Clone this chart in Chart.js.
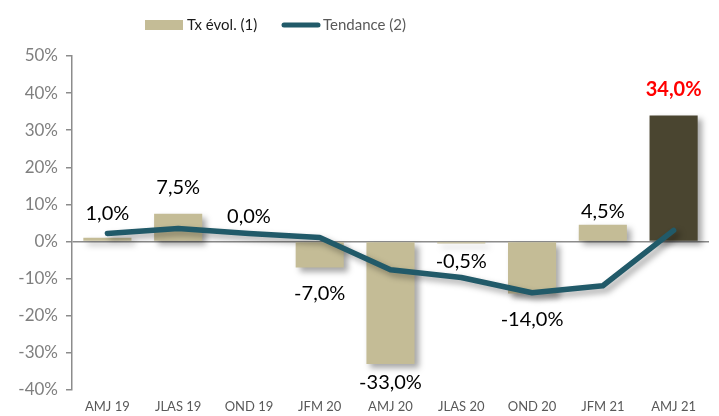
<!DOCTYPE html>
<html>
<head>
<meta charset="utf-8">
<script src="https://cdn.jsdelivr.net/npm/chart.js@4.4.0/dist/chart.umd.min.js"></script>
<style>
  html, body { margin: 0; padding: 0; background: #fff; }
  #wrap { width: 719px; height: 416px; }
</style>
</head>
<body>
<div id="wrap"><canvas id="myChart" width="719" height="416"></canvas></div>
<script>
var categories = ['AMJ 19', 'JLAS 19', 'OND 19', 'JFM 20', 'AMJ 20', 'JLAS 20', 'OND 20', 'JFM 21', 'AMJ 21'];
var evolValues = [1.0, 7.5, 0.0, -7.0, -33.0, -0.5, -14.0, 4.5, 34.0];
var trendValues = [2.2, 3.5, 2.2, 1.1, -7.6, -9.7, -13.8, -11.9, 3.0];
var seriesNames = ['Tx évol. (1)', 'Tendance (2)'];

var beige = '#c4bc96';
var dark = '#4a4530';
var teal = '#215a69';
var labelOffsets = [24, 26, 25, 26, 19, 18, 26, 13, 26];

var barColors = [];
for (var i = 0; i < evolValues.length; i++) {
    barColors.push(i === evolValues.length - 1 ? dark : beige);
}

function fmt(v) {
    return v.toFixed(1).replace('.', ',') + '%';
}

var shadowPlugin = {
    id: 'shadow',
    beforeDatasetDraw: function(chart) {
        var c = chart.ctx;
        c.save();
        c.shadowColor = 'rgba(0,0,0,0.35)';
        c.shadowBlur = 6;
        c.shadowOffsetX = 4;
        c.shadowOffsetY = 4;
    },
    afterDatasetDraw: function(chart) {
        chart.ctx.restore();
    }
};

var labelPlugin = {
    id: 'barLabels',
    afterDatasetsDraw: function(chart) {
        var c = chart.ctx;
        var meta = chart.getDatasetMeta(0);
        c.save();
        c.textAlign = 'center';
        c.textBaseline = 'middle';
        for (var i = 0; i < meta.data.length; i++) {
            var bar = meta.data[i];
            var v = evolValues[i];
            var last = i === meta.data.length - 1;
            c.font = (last ? 'bold ' : '') + '20px Lato';
            c.fillStyle = last ? '#ff0000' : '#000000';
            var y = v >= 0 ? bar.y - labelOffsets[i] : bar.y + labelOffsets[i];
            c.fillText(fmt(v), bar.x, y);
        }
        c.restore();
    }
};

// legend drawn by hand: Excel puts it left of centre with a wide gap
var legendPlugin = {
    id: 'myLegend',
    afterDraw: function(chart) {
        var c = chart.ctx;
        c.save();
        c.font = '15px Lato';
        c.textBaseline = 'middle';
        c.textAlign = 'left';
        c.fillStyle = beige;
        c.fillRect(145, 20, 38, 10);
        c.fillStyle = '#1a1a1a';
        c.fillText(seriesNames[0], 187, 25);
        c.strokeStyle = teal;
        c.lineWidth = 5;
        c.lineCap = 'round';
        c.beginPath();
        c.moveTo(284, 25);
        c.lineTo(318, 25);
        c.stroke();
        c.fillStyle = '#595959';
        c.fillText(seriesNames[1], 323, 25);
        c.restore();
    }
};

var ctx = document.getElementById('myChart').getContext('2d');
var myChart = new Chart(ctx, {
    type: 'bar',
    data: {
        labels: categories,
        datasets: [{
            type: 'bar',
            label: seriesNames[0],
            data: evolValues,
            backgroundColor: barColors,
            categoryPercentage: 1,
            barPercentage: 0.68,
            order: 1
        }, {
            type: 'line',
            label: seriesNames[1],
            data: trendValues,
            borderColor: teal,
            borderWidth: 5.5,
            pointRadius: 0,
            fill: false,
            tension: 0,
            borderCapStyle: 'round',
            borderJoinStyle: 'round',
            order: 0
        }]
    },
    options: {
        responsive: false,
        animation: false,
        layout: { padding: { left: 0, right: 10, top: 56, bottom: 0 } },
        plugins: {
            tooltip: { enabled: false },
            legend: { display: false }
        },
        scales: {
            x: {
                grid: { display: false },
                border: { display: false },
                ticks: {
                    color: '#595959',
                    font: { family: 'Lato', size: 13 },
                    maxRotation: 0,
                    padding: 1
                },
                afterFit: function(scale) { scale.height = 26; }
            },
            y: {
                min: -40,
                max: 50,
                ticks: {
                    stepSize: 10,
                    color: '#7f7f7f',
                    font: { family: 'Lato', size: 17 },
                    padding: 8,
                    callback: function(v) { return v + '%'; }
                },
                grid: {
                    color: function(c) { return c.tick && c.tick.value === 0 ? '#8c8c8c' : 'rgba(0,0,0,0)'; },
                    lineWidth: 1.5,
                    tickColor: '#8c8c8c',
                    tickLength: 6
                },
                border: { display: true, color: '#8c8c8c', width: 1.5 },
                afterFit: function(scale) { scale.width = 72; }
            }
        }
    },
    plugins: [shadowPlugin, labelPlugin, legendPlugin]
});
</script>
</body>
</html>
